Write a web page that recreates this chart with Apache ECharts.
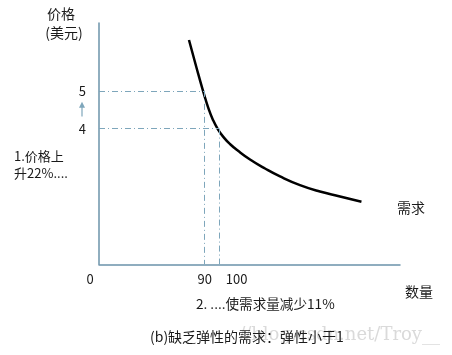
<!DOCTYPE html>
<html>
<head>
<meta charset="utf-8">
<script src="https://cdn.jsdelivr.net/npm/echarts@6/dist/echarts.min.js"></script>
<style>
  html, body { margin: 0; padding: 0; background: #fff; }
  #chart { width: 452px; height: 355px; }
</style>
</head>
<body>
<div id="chart"></div>
<script>
// 需求曲线：数量 / 价格（示意图，从图上读取）
const curveQty = [80, 84.7, 89.5, 92.7, 96, 99.3, 103.3, 107.3, 112.7, 120.7, 130.7, 140.7, 154, 167.3, 180.7, 195];
const curvePrice = [6.35, 5.66, 4.98, 4.57, 4.23, 3.98, 3.76, 3.59, 3.41, 3.18, 2.94, 2.73, 2.50, 2.33, 2.20, 2.06];
// 两个价格点（虚线）
const markQty = [90, 100];
const markPrice = [5, 4];
// 刻度
const yTicks = [4, 5];
const xTickText = ['0', '90', '100'];
const xTickAt = [14, 90.5, 111.8];

const FONT = 'Noto Sans CJK SC';
const axisColor = '#6b93aa';
const dashColor = '#7ea6bb';

const chart = echarts.init(document.getElementById('chart'), null, { renderer: 'canvas' });

let curveData = [];
for (let i = 0; i < curveQty.length; i++) {
  curveData.push([curveQty[i], curvePrice[i]]);
}
let dashLines = [];
for (let i = 0; i < markQty.length; i++) {
  // 横向：从纵轴到曲线
  dashLines.push([{ coord: [20, markPrice[i]] }, { coord: [markQty[i], markPrice[i]] }]);
  // 纵向：从曲线到横轴
  dashLines.push([{ coord: [markQty[i], markPrice[i]] }, { coord: [markQty[i], 0.4] }]);
}

const option = {
  animation: false,
  backgroundColor: '#fff',
  grid: { left: 99, right: 52, top: 23, bottom: 90.7 },
  xAxis: {
    type: 'value',
    min: 20,
    max: 220.7,
    splitLine: { show: false },
    axisTick: { show: false },
    axisLabel: { show: false },
    axisLine: { lineStyle: { color: axisColor, width: 1.5 } }
  },
  yAxis: {
    type: 'value',
    min: 0.4,
    max: 6.8,
    splitLine: { show: false },
    axisTick: { show: false },
    axisLine: { show: true, lineStyle: { color: axisColor, width: 1.5 } },
    axisLabel: {
      customValues: yTicks,
      margin: 13,
      color: '#1a1a1a',
      fontSize: 13,
      fontFamily: FONT
    }
  },
  series: [
    {
      type: 'line',
      data: curveData,
      smooth: 0.5,
      showSymbol: false,
      lineStyle: { color: '#000', width: 2.5 },
      markLine: {
        silent: true,
        symbol: 'none',
        label: { show: false },
        lineStyle: { color: dashColor, width: 1, type: [6, 3, 1, 3] },
        data: dashLines
      }
    }
  ]
};
chart.setOption(option);

// 文字与箭头
let textStyle = (txt, size) => ({ text: txt, fill: '#1a1a1a', font: size + 'px "' + FONT + '"' });
let graphics = [];
for (let i = 0; i < xTickText.length; i++) {
  const pt = chart.convertToPixel({ gridIndex: 0 }, [xTickAt[i], 0.4]);
  graphics.push({
    type: 'text', x: pt[0], y: pt[1] + 15,
    style: Object.assign(textStyle(xTickText[i], 13), { align: 'center', verticalAlign: 'middle' })
  });
}
const p5 = chart.convertToPixel({ gridIndex: 0 }, [20, 5]);
const p4 = chart.convertToPixel({ gridIndex: 0 }, [20, 4]);
graphics.push(
  { type: 'line', shape: { x1: 82, y1: p4[1] - 12, x2: 82, y2: p5[1] + 16 }, style: { stroke: dashColor, lineWidth: 1.2 } },
  { type: 'polygon', shape: { points: [[79, p5[1] + 17], [85, p5[1] + 17], [82, p5[1] + 11]] }, style: { fill: dashColor } }
);
const labels = [
  ['价格', 61, 14, 14, 'center'],
  ['(美元)', 64, 33, 14, 'center'],
  ['1.价格上', 14, 156, 13, 'left'],
  ['升22%....', 14, 173, 13, 'left'],
  ['需求', 397, 208, 14, 'left'],
  ['数量', 405, 292, 14, 'left'],
  ['2. ....使需求量减少11%', 196, 304, 13.6, 'left']
];
labels.forEach(l => {
  graphics.push({
    type: 'text', x: l[1], y: l[2],
    style: Object.assign(textStyle(l[0], l[3]), { align: l[4], verticalAlign: 'middle' })
  });
});
// 水印 + 标题
graphics.push({
  type: 'text', x: 440, y: 335,
  style: { text: '//blog.csdn.net/Troy__', fill: '#dadada', font: '18px "DejaVu Serif"', align: 'right', verticalAlign: 'middle' }
});
graphics.push({
  type: 'text', x: 150, y: 337,
  style: Object.assign(textStyle('(b)缺乏弹性的需求：弹性小于1', 14), { align: 'left', verticalAlign: 'middle' })
});
chart.setOption({ graphic: graphics });
</script>
</body>
</html>
